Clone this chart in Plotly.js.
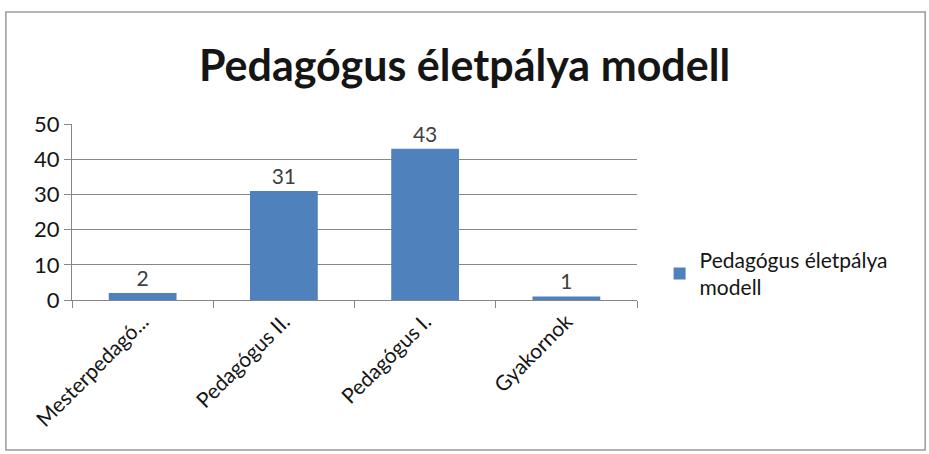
<!DOCTYPE html>
<html><head><meta charset="utf-8">
<script src="https://cdn.plot.ly/plotly-3.0.1.min.js"></script>
<style>html,body{margin:0;padding:0;background:#fff}#c{width:929px;height:454px}</style>
</head><body><div id="c"></div>
<script>
const categories = ["Mesterpedagó...", "Pedagógus II.", "Pedagógus I.", "Gyakornok"];
const values = [2, 31, 43, 1];
const seriesName = "Pedagógus életpálya<br>modell";
const titleText = "Pedagógus életpálya modell";
const yTicks = [0, 10, 20, 30, 40, 50];

const font = "Lato, 'Open Sans', sans-serif";
const trace = {
  type: "bar", x: categories, y: values, name: seriesName,
  marker: {color: "#4F81BD"}, width: 0.48,
  text: values.map(String), textposition: "outside", cliponaxis: false,
  textfont: {family: font, size: 21, color: "#404040"},
  showlegend: true, hoverinfo: "none"
};
const layout = {
  width: 929, height: 454,
  margin: {l: 72, r: 292, t: 124, b: 154},
  paper_bgcolor: "#fff", plot_bgcolor: "#fff",
  font: {family: font, color: "#000"},
  title: {text: "<b>" + titleText + "</b>", x: 0.5, xref: "container", xanchor: "center",
          y: 0.855, yref: "container", yanchor: "middle",
          font: {family: font, size: 43, color: "#151515"}},
  showlegend: true,
  legend: {x: 1.04, xanchor: "left", y: 0.15, yanchor: "middle",
           font: {family: font, size: 21, color: "#151515"}, itemwidth: 30,
           bgcolor: "rgba(0,0,0,0)"},
  xaxis: {type: "category", showline: true, linecolor: "#868686", linewidth: 1,
          ticks: "outside", ticklen: 7, tickcolor: "#868686", tickson: "boundaries",
          tickangle: -45, tickfont: {family: font, size: 21, color: "#151515"},
          showgrid: false, zeroline: false},
  yaxis: {range: [0, 50], tickvals: yTicks, ticktext: yTicks.map(String),
          showline: true, linecolor: "#868686", ticks: "outside", ticklen: 7,
          tickcolor: "#868686", showgrid: true, gridcolor: "#868686", gridwidth: 1,
          zeroline: false, tickfont: {family: font, size: 22, color: "#151515"}},
  bargap: 0.52,
  shapes: [{type: "rect", xref: "paper", yref: "paper",
            x0: -0.117, x1: 1.51, y0: -0.852, y1: 1.636,
            line: {color: "#9a9a9a", width: 1.5}}]
};
Plotly.newPlot("c", [trace], layout, {displayModeBar: false, staticPlot: true});
</script></body></html>
